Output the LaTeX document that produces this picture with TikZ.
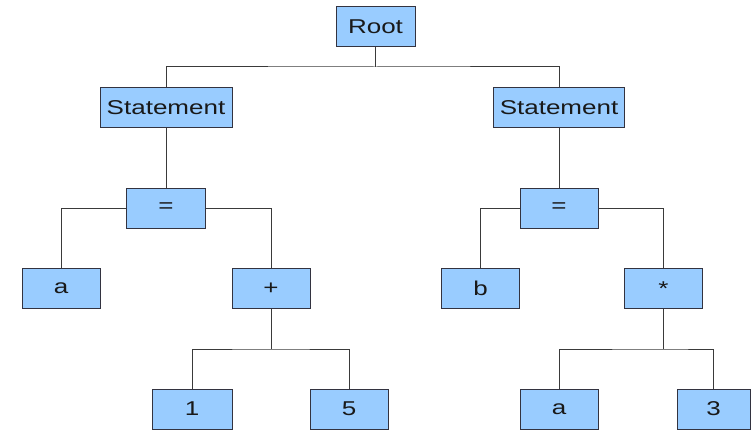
\documentclass[tikz,border=0pt]{standalone}
\usepackage{fontspec}
\setmainfont[FakeStretch=1.3]{Liberation Sans}
\definecolor{boxfill}{HTML}{99CCFF}
\definecolor{boxline}{HTML}{333340}
\definecolor{wire}{HTML}{3A3A3A}
\begin{document}
\begin{tikzpicture}[x=1pt,y=-1pt,
  tbox/.style={draw=boxline,fill=boxfill,line width=1pt,minimum height=40pt,minimum width=79pt,inner sep=0pt,font=\fontsize{20pt}{23pt}\selectfont,text=black!90},
  wide/.style={minimum width=132pt},
  wire/.style={draw=wire,line width=1pt}]
\useasboundingbox (0,0) rectangle (751,433);
\node[tbox] (root) at (375.5,27) {Root};
\node[tbox,wide] (stl) at (166,107.5) {Statement};
\node[tbox,wide,minimum width=131pt] (str) at (559,107.5) {Statement};
\node[tbox] (eql) at (166,208) {=};
\node[tbox,minimum width=78pt] (eqr) at (559,208) {=};
\node[tbox,minimum width=78pt] (a1) at (61,288.5) {a};
\node[tbox,minimum width=78pt] (plus) at (271,288.5) {+};
\node[tbox,minimum width=78pt] (b) at (480.5,288.5) {b};
\node[tbox,minimum width=78pt] (star) at (663.5,288.5) {*};
\node[tbox,minimum width=80pt] (one) at (192,409) {1};
\node[tbox,minimum width=78pt] (five) at (349,409) {5};
\node[tbox,minimum width=78pt] (a2) at (559,409) {a};
\node[tbox,minimum width=73pt] (three) at (713.5,409) {3};
\coordinate (j0) at (375.5,67);
\coordinate (j1) at (271,349);
\coordinate (j2) at (663.5,349);
\draw[wire] (root.south) -- (j0);
\draw[wire] (stl.north) |- (j0) -| (str.north);
\draw[wire] (stl.south) -- (eql.north);
\draw[wire] (str.south) -- (eqr.north);
\draw[wire] (eql.west) -| (a1.north);
\draw[wire] (eql.east) -| (plus.north);
\draw[wire] (eqr.west) -| (b.north);
\draw[wire] (eqr.east) -| (star.north);
\draw[wire] (plus.south) -- (j1);
\draw[wire] (one.north) |- (j1) -| (five.north);
\draw[wire] (star.south) -- (j2);
\draw[wire] (a2.north) |- (j2) -| (three.north);
\end{tikzpicture}
\end{document}
